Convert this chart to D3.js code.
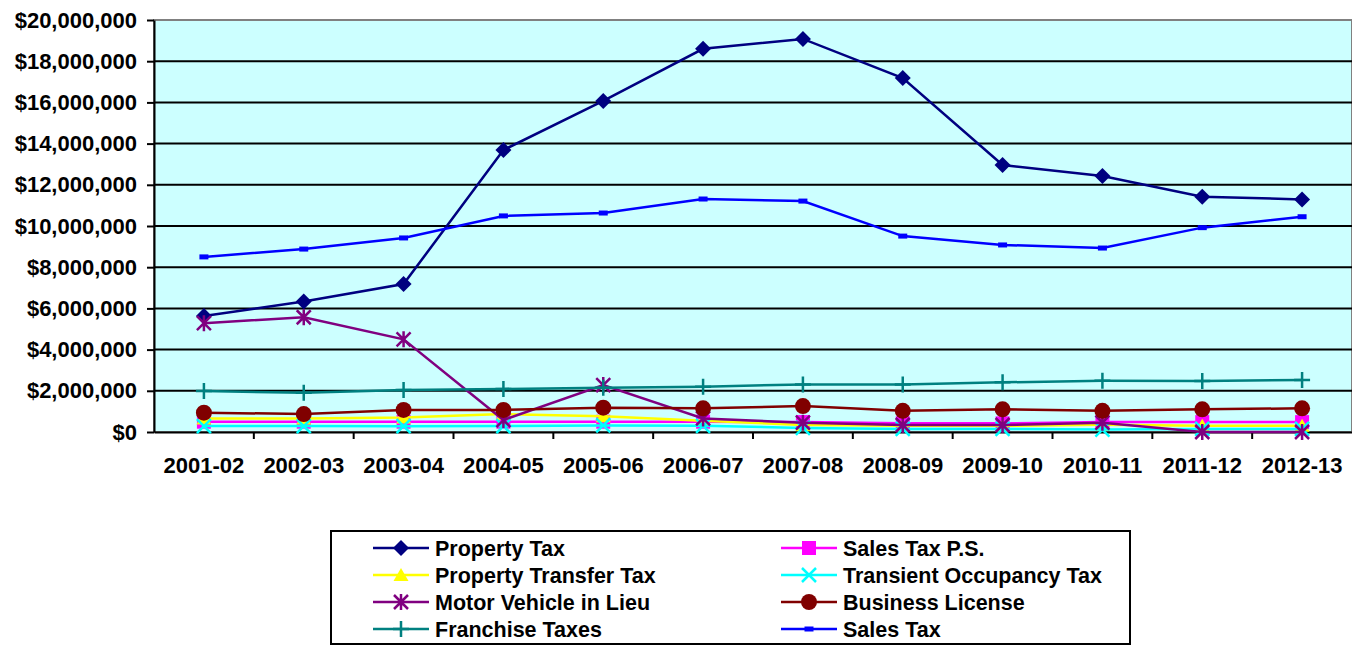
<!DOCTYPE html>
<html>
<head>
<meta charset="utf-8">
<script src="https://cdn.jsdelivr.net/npm/d3@7"></script>
<style>
  body { margin: 0; background: #fff; }
  text { font-family: "Liberation Sans", Arial, sans-serif; font-weight: bold; fill: #000; }
</style>
</head>
<body>
<svg width="1352" height="646"></svg>
<script>
var years = ["2001-02", "2002-03", "2003-04", "2004-05", "2005-06", "2006-07",
             "2007-08", "2008-09", "2009-10", "2010-11", "2011-12", "2012-13"];

var propertyTax       = [5630000, 6330000, 7180000, 13690000, 16070000, 18600000, 19080000, 17180000, 12960000, 12430000, 11420000, 11290000];
var salesTaxPS        = [500000, 500000, 500000, 500000, 500000, 500000, 480000, 420000, 420000, 480000, 480000, 480000];
var propTransferTax   = [660000, 660000, 700000, 870000, 760000, 550000, 340000, 300000, 300000, 350000, 300000, 300000];
var transientTax      = [290000, 290000, 280000, 290000, 320000, 300000, 200000, 150000, 150000, 120000, 150000, 150000];
var motorVehicle      = [5280000, 5570000, 4500000, 580000, 2280000, 660000, 450000, 340000, 340000, 450000, 0, 0];
var businessLicense   = [940000, 870000, 1070000, 1070000, 1180000, 1150000, 1260000, 1030000, 1100000, 1030000, 1100000, 1150000];
var franchiseTaxes    = [1990000, 1900000, 2040000, 2090000, 2150000, 2200000, 2310000, 2310000, 2410000, 2490000, 2470000, 2530000];
var salesTax          = [8500000, 8880000, 9420000, 10490000, 10630000, 11310000, 11210000, 9510000, 9080000, 8930000, 9920000, 10450000];

var yTicks = [0, 2000000, 4000000, 6000000, 8000000, 10000000, 12000000, 14000000, 16000000, 18000000, 20000000];

var series = [
  {name: "Property Tax",            values: propertyTax,     color: "#000080", marker: "diamond"},
  {name: "Sales Tax P.S.",          values: salesTaxPS,      color: "#FF00FF", marker: "square"},
  {name: "Property Transfer Tax",   values: propTransferTax, color: "#FFFF00", marker: "triangle"},
  {name: "Transient Occupancy Tax", values: transientTax,    color: "#00FFFF", marker: "x"},
  {name: "Motor Vehicle in Lieu",   values: motorVehicle,    color: "#800080", marker: "star"},
  {name: "Business License",        values: businessLicense, color: "#800000", marker: "circle"},
  {name: "Franchise Taxes",         values: franchiseTaxes,  color: "#008080", marker: "plus"},
  {name: "Sales Tax",               values: salesTax,        color: "#0000FF", marker: "dash"}
];

var svg = d3.select("svg"),
    margin = {top: 20, left: 154},
    width = 1352 - margin.left,
    height = 432 - margin.top;

var x = d3.scaleBand().domain(years).range([0, width]).padding(0),
    y = d3.scaleLinear().domain([0, 20000000]).range([height, 0]);

var chart = svg.append("g")
    .attr("transform", "translate(" + margin.left + "," + margin.top + ")");

// plot background
chart.append("rect")
    .attr("width", width)
    .attr("height", height)
    .attr("fill", "#CCFFFF")
    .attr("stroke", "#808080")
    .attr("stroke-width", 2);

// gridlines
chart.append("g").selectAll("line")
    .data(yTicks.filter(function(d) { return d > 0 && d < 20000000; }))
  .enter().append("line")
    .attr("x1", 0).attr("x2", width)
    .attr("y1", function(d) { return y(d); })
    .attr("y2", function(d) { return y(d); })
    .attr("stroke", "#000")
    .attr("stroke-width", 2);

// y-axis
var yAxis = chart.append("g")
    .call(d3.axisLeft(y).tickValues(yTicks).tickSizeInner(7).tickSizeOuter(0).tickPadding(10)
      .tickFormat(function(d) { return "$" + d3.format(",")(d); }));
yAxis.select(".domain").attr("stroke", "#000").attr("stroke-width", 2);
yAxis.selectAll(".tick line").attr("stroke", "#000").attr("stroke-width", 2);
yAxis.selectAll("text").style("font-size", "22px").attr("fill", "#000");

// x-axis: labels centred in bands, ticks at band boundaries
var xAxis = chart.append("g")
    .attr("transform", "translate(0," + height + ")")
    .call(d3.axisBottom(x).tickSize(0).tickPadding(25));
xAxis.select(".domain").attr("stroke", "#000").attr("stroke-width", 2);
xAxis.selectAll("text").style("font-size", "22px").attr("fill", "#000");
xAxis.selectAll(".boundary")
    .data(years.slice(1))
  .enter().append("line")
    .attr("class", "boundary")
    .attr("x1", function(d) { return x(d); })
    .attr("x2", function(d) { return x(d); })
    .attr("y1", 0).attr("y2", 7)
    .attr("stroke", "#000")
    .attr("stroke-width", 2);

// marker drawing
function drawMarker(g, type, color) {
  switch (type) {
    case "diamond":
      g.append("path").attr("d", "M0,-8L8,0L0,8L-8,0Z").attr("fill", color);
      break;
    case "square":
      g.append("rect").attr("x", -7).attr("y", -7).attr("width", 14).attr("height", 14).attr("fill", color);
      break;
    case "triangle":
      g.append("path").attr("d", "M0,-7L7.5,6L-7.5,6Z").attr("fill", color);
      break;
    case "x":
      g.append("path").attr("d", "M-7,-7L7,7M-7,7L7,-7").attr("stroke", color).attr("stroke-width", 2.5).attr("fill", "none");
      break;
    case "star":
      g.append("path").attr("d", "M-7,-7L7,7M-7,7L7,-7M0,-8L0,8").attr("stroke", color).attr("stroke-width", 2.5).attr("fill", "none");
      break;
    case "circle":
      g.append("circle").attr("r", 8).attr("fill", color);
      break;
    case "plus":
      g.append("path").attr("d", "M-8,0L8,0M0,-8L0,8").attr("stroke", color).attr("stroke-width", 2.5).attr("fill", "none");
      break;
    case "dash":
      g.append("rect").attr("x", -4.5).attr("y", -2.5).attr("width", 9).attr("height", 5).attr("fill", color);
      break;
  }
}

var line = d3.line()
    .x(function(d, i) { return x(years[i]) + x.bandwidth() / 2; })
    .y(function(d) { return y(d); });

series.forEach(function(s) {
  var g = chart.append("g").attr("class", "series");
  g.append("path")
      .datum(s.values)
      .attr("d", line)
      .attr("fill", "none")
      .attr("stroke", s.color)
      .attr("stroke-width", 2.5);
  g.selectAll(".marker")
      .data(s.values)
    .enter().append("g")
      .attr("class", "marker")
      .attr("transform", function(d, i) {
        return "translate(" + (x(years[i]) + x.bandwidth() / 2) + "," + y(d) + ")";
      })
      .each(function() { drawMarker(d3.select(this), s.marker, s.color); });
});

// legend
var legend = svg.append("g");
legend.append("rect")
    .attr("x", 331).attr("y", 531)
    .attr("width", 799).attr("height", 113)
    .attr("fill", "#fff")
    .attr("stroke", "#000")
    .attr("stroke-width", 2);

var legendCols = [373, 781],
    legendRows = [548, 575, 602, 629];

var item = legend.selectAll(".item")
    .data(series)
  .enter().append("g")
    .attr("class", "item")
    .attr("transform", function(d, i) {
      return "translate(" + legendCols[i % 2] + "," + legendRows[Math.floor(i / 2)] + ")";
    });

item.append("line")
    .attr("x1", 0).attr("x2", 56)
    .attr("stroke", function(d) { return d.color; })
    .attr("stroke-width", 2.5);

item.append("g")
    .attr("transform", "translate(28,0)")
    .each(function(d) { drawMarker(d3.select(this), d.marker, d.color); });

item.append("text")
    .attr("x", 62)
    .attr("dy", "0.36em")
    .style("font-size", "21.5px")
    .text(function(d) { return d.name; });
</script>
</body>
</html>
